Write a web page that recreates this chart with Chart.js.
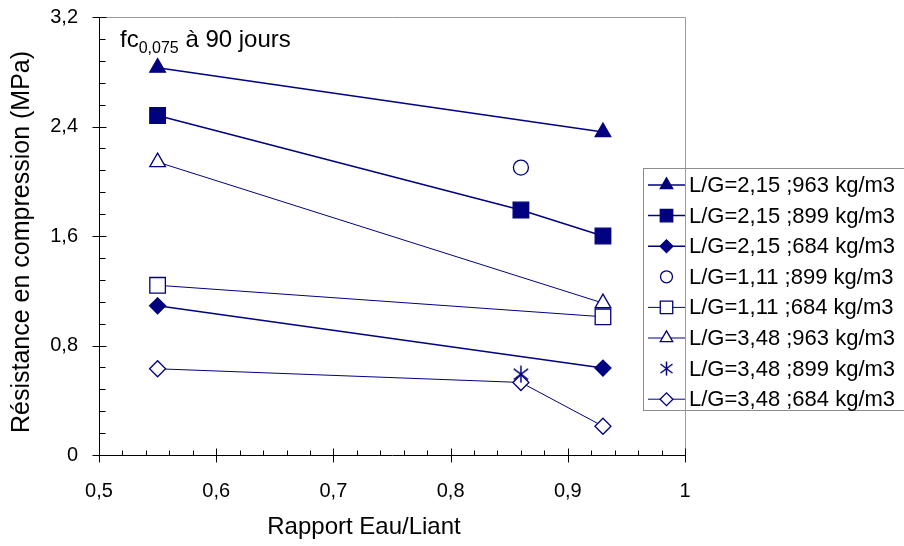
<!DOCTYPE html>
<html>
<head>
<meta charset="utf-8">
<script src="https://cdn.jsdelivr.net/npm/chart.js@4.4.1/dist/chart.umd.min.js"></script>
<style>
  html, body { margin: 0; padding: 0; background: #fff; }
</style>
</head>
<body>
<canvas id="grafResistance" width="904" height="546"></canvas>
<script>
// valeurs
const xTickLabels = ['0,5', '0,6', '0,7', '0,8', '0,9', '1']
const yTickLabels = ['0', '0,8', '1,6', '2,4', '3,2']

const nomsSeries = [
    'L/G=2,15 ;963 kg/m3',
    'L/G=2,15 ;899 kg/m3',
    'L/G=2,15 ;684 kg/m3',
    'L/G=1,11 ;899 kg/m3',
    'L/G=1,11 ;684 kg/m3',
    'L/G=3,48 ;963 kg/m3',
    'L/G=3,48 ;899 kg/m3',
    'L/G=3,48 ;684 kg/m3'
]

const el215_963 = [0.55, 0.93]
const fc215_963 = [2.83, 2.36]
const el215_899 = [0.55, 0.86, 0.93]
const fc215_899 = [2.48, 1.79, 1.60]
const el215_684 = [0.55, 0.93]
const fc215_684 = [1.09, 0.635]
const el111_899 = [0.86]
const fc111_899 = [2.10]
const el111_684 = [0.55, 0.93]
const fc111_684 = [1.24, 1.01]
const el348_963 = [0.55, 0.93]
const fc348_963 = [2.14, 1.11]
const el348_899 = [0.86]
const fc348_899 = [0.59]
const el348_684 = [0.55, 0.86, 0.93]
const fc348_684 = [0.63, 0.53, 0.21]

const bleu = '#000080'
const police = "'Liberation Sans', Arial, sans-serif"

function points(xs, ys) {
    return xs.map((x, i) => ({ x: x, y: ys[i] }))
}

// marqueur asterisque (trait vertical + croix)
function creerEtoile(taille) {
    let c = document.createElement('canvas')
    c.width = taille
    c.height = taille
    let g = c.getContext('2d')
    g.strokeStyle = bleu
    g.lineWidth = 1.5
    let m = taille / 2
    g.beginPath()
    g.moveTo(m, 0.5); g.lineTo(m, taille - 0.5)
    g.moveTo(taille * 0.1, taille * 0.2); g.lineTo(taille * 0.9, taille * 0.8)
    g.moveTo(taille * 0.9, taille * 0.2); g.lineTo(taille * 0.1, taille * 0.8)
    g.stroke()
    return c
}
const etoile = creerEtoile(18)
const etoileLegende = creerEtoile(15)

function serie(nom, xs, ys, style, rayon, plein, ligne, epaisseur) {
    return {
        label: nom,
        data: points(xs, ys),
        showLine: ligne,
        borderColor: bleu,
        borderWidth: epaisseur,
        backgroundColor: plein ? bleu : '#fff',
        pointStyle: style,
        pointRadius: rayon,
        pointHoverRadius: rayon,
        pointBorderWidth: 1.3,
        pointBorderColor: bleu,
        pointBackgroundColor: plein ? bleu : '#fff'
    }
}

const datasets = [
    serie(nomsSeries[0], el215_963, fc215_963, 'triangle', 9, true, true, 1.5),
    serie(nomsSeries[1], el215_899, fc215_899, 'rect', 11, true, true, 1.5),
    serie(nomsSeries[2], el215_684, fc215_684, 'rectRot', 8, true, true, 1.5),
    serie(nomsSeries[3], el111_899, fc111_899, 'circle', 7.5, false, false, 1),
    serie(nomsSeries[4], el111_684, fc111_684, 'rect', 11, false, true, 1),
    serie(nomsSeries[5], el348_963, fc348_963, 'triangle', 9, false, true, 1),
    serie(nomsSeries[6], el348_899, fc348_899, etoile, 9, false, false, 1),
    serie(nomsSeries[7], el348_684, fc348_684, 'rectRot', 8, false, true, 1)
]

const decor = {
    id: 'decor',
    afterDraw(chart) {
        const ctx = chart.ctx
        const a = chart.chartArea
        const sx = chart.scales.x
        const sy = chart.scales.y
        ctx.save()

        // cadre gris haut et droite
        ctx.strokeStyle = '#9a9a9a'
        ctx.lineWidth = 1
        ctx.beginPath()
        ctx.moveTo(a.left, Math.round(a.top) + 0.5)
        ctx.lineTo(Math.round(a.right) + 0.5, Math.round(a.top) + 0.5)
        ctx.lineTo(Math.round(a.right) + 0.5, a.bottom)
        ctx.stroke()

        // graduations
        ctx.strokeStyle = '#000'
        ctx.beginPath()
        let x0 = Math.round(a.left) + 0.5
        for (let k = 0; k <= 20; k++) {
            let v = k * 0.16
            let py = Math.round(sy.getPixelForValue(v)) + 0.5
            if (k % 5 === 0) { ctx.moveTo(x0 - 7, py); ctx.lineTo(x0 + 7, py) }
            else { ctx.moveTo(x0, py); ctx.lineTo(x0 + 6, py) }
        }
        let y0 = Math.round(a.bottom) + 0.5
        for (let k = 0; k <= 25; k++) {
            let v = 0.5 + k * 0.02
            let px = Math.round(sx.getPixelForValue(v)) + 0.5
            if (k % 5 === 0) { ctx.moveTo(px, y0 - 7); ctx.lineTo(px, y0 + 7) }
            else { ctx.moveTo(px, y0); ctx.lineTo(px, y0 - 5) }
        }
        ctx.stroke()

        // titres des axes
        ctx.fillStyle = '#000'
        ctx.font = '24px ' + police
        ctx.textAlign = 'center'
        ctx.textBaseline = 'middle'
        ctx.fillText('Rapport Eau/Liant', 364, 527)
        ctx.save()
        ctx.translate(22, 242)
        ctx.rotate(-Math.PI / 2)
        ctx.font = '25px ' + police
        ctx.fillText('Résistance en compression (MPa)', 0, 0)
        ctx.restore()

        // titre dans le graphique
        ctx.textAlign = 'left'
        ctx.textBaseline = 'alphabetic'
        let tx = 120
        ctx.font = '24px ' + police
        ctx.fillText('fc', tx, 47)
        tx += ctx.measureText('fc').width
        ctx.font = '16px ' + police
        ctx.fillText('0,075', tx, 53)
        tx += ctx.measureText('0,075').width
        ctx.font = '24px ' + police
        ctx.fillText(' à 90 jours', tx, 47)

        // legende
        ctx.strokeStyle = '#8c8c8c'
        ctx.lineWidth = 1
        ctx.strokeRect(643.5, 168.5, 280, 242)
        ctx.font = '22px ' + police
        ctx.textBaseline = 'middle'
        chart.data.datasets.forEach((ds, i) => {
            let yc = 185 + i * 30.6
            ctx.strokeStyle = bleu
            if (ds.showLine) {
                ctx.lineWidth = ds.borderWidth
                ctx.beginPath()
                ctx.moveTo(648, yc)
                ctx.lineTo(685, yc)
                ctx.stroke()
            }
            ctx.fillStyle = ds.pointBackgroundColor
            ctx.lineWidth = ds.pointBorderWidth
            if (typeof ds.pointStyle === 'string') {
                Chart.helpers.drawPoint(ctx, {
                    pointStyle: ds.pointStyle,
                    rotation: 0,
                    radius: ds.pointRadius * 0.8,
                    borderWidth: ds.pointBorderWidth
                }, 666.5, yc)
            } else {
                ctx.drawImage(etoileLegende, 666.5 - 7.5, yc - 7.5, 15, 15)
            }
            ctx.fillStyle = '#000'
            ctx.fillText(ds.label, 689, yc + 1)
        })
        ctx.restore()
    }
}

let grafResistance = new Chart(document.getElementById('grafResistance'), {
    type: 'scatter',
    data: { datasets: datasets },
    options: {
        responsive: false,
        animation: false,
        devicePixelRatio: 1,
        layout: { padding: { top: 17, right: 219, left: 0, bottom: 0 } },
        plugins: {
            legend: { display: false },
            tooltip: { enabled: false }
        },
        scales: {
            x: {
                type: 'linear',
                min: 0.5,
                max: 1,
                ticks: {
                    stepSize: 0.1,
                    autoSkip: false,
                    maxRotation: 0,
                    padding: 24,
                    color: '#000',
                    font: { size: 20, family: police },
                    callback: (v, i) => xTickLabels[i]
                },
                grid: { display: false, drawTicks: false },
                border: { display: true, color: '#000', width: 1 },
                afterFit: s => {
                    s.height = 91
                    s.paddingLeft = 0
                    s.paddingRight = 0
                }
            },
            y: {
                min: 0,
                max: 3.2,
                ticks: {
                    stepSize: 0.8,
                    padding: 21,
                    color: '#000',
                    font: { size: 20, family: police },
                    callback: (v, i) => yTickLabels[i]
                },
                grid: { display: false, drawTicks: false },
                border: { display: true, color: '#000', width: 1 },
                afterFit: s => {
                    s.width = 99
                    s.paddingTop = 0
                    s.paddingBottom = 0
                }
            }
        }
    },
    plugins: [decor]
})
</script>
</body>
</html>
